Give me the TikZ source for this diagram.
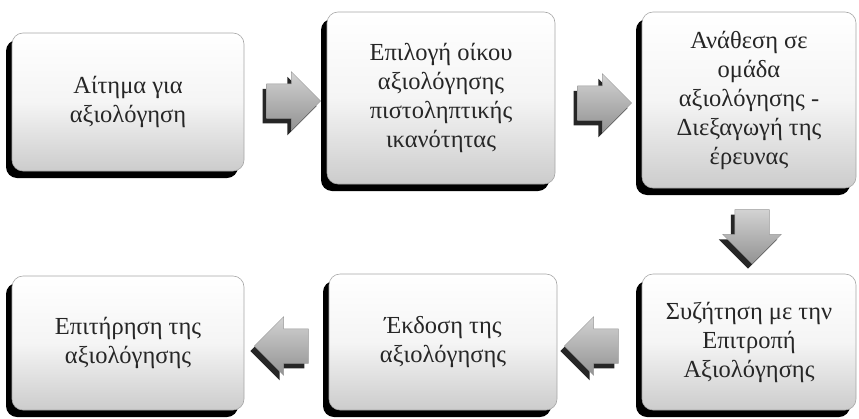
\documentclass[tikz,border=0pt]{standalone}
\usepackage{fontspec}
\setmainfont{Liberation Serif}
\usetikzlibrary{shapes.arrows,shadows}
\tikzset{
  box/.style={rectangle, rounded corners=11pt, draw=gray!70, line width=0.6pt,
    top color=white, bottom color=gray!40, middle color=white!92!gray,
    general shadow={shadow xshift=-6pt, shadow yshift=-7pt, fill=black, rounded corners=11pt},
    align=center, font=\fontsize{24.5}{29}\selectfont, text=black!85, inner sep=4pt},
  blk/.style={single arrow, single arrow head extend=12pt, inner sep=17pt,
    minimum height=54pt, draw=gray!80, line width=0.5pt,
    top color=gray!35, bottom color=gray!85,
    general shadow={shadow xshift=-4pt, shadow yshift=-5pt, fill=black!85}},
}
\begin{document}
\begin{tikzpicture}[x=1pt,y=-1pt]
\useasboundingbox (0,0) rectangle (859,418);
\node[box, minimum width=232pt, minimum height=138pt] (b1) at (128,102) {Αίτημα για\\αξιολόγηση};
\node[box, minimum width=228pt, minimum height=172pt] (b2) at (441,98) {Επιλογή οίκου\\αξιολόγησης\\πιστοληπτικής\\ικανότητας};
\node[box, minimum width=214pt, minimum height=176pt] (b3) at (749,100) {Ανάθεση σε\\ομάδα\\αξιολόγησης -\\Διεξαγωγή της\\έρευνας};
\node[box, minimum width=214pt, minimum height=136pt] (b4) at (749,342) {Συζήτηση με την\\Επιτροπή\\Αξιολόγησης};
\node[box, minimum width=228pt, minimum height=136pt] (b5) at (443,342) {Έκδοση της\\αξιολόγησης};
\node[box, minimum width=232pt, minimum height=134pt] (b6) at (128,343) {Επιτήρηση της\\αξιολόγησης};
\node[blk] (a1) at (285,101) {};
\node[blk] (a2) at (596,103) {};
\node[blk, shape border rotate=270] (a3) at (752,228) {};
\node[blk, shape border rotate=180] (a4) at (600,346) {};
\node[blk, shape border rotate=180] (a5) at (290,346) {};
\end{tikzpicture}
\end{document}
